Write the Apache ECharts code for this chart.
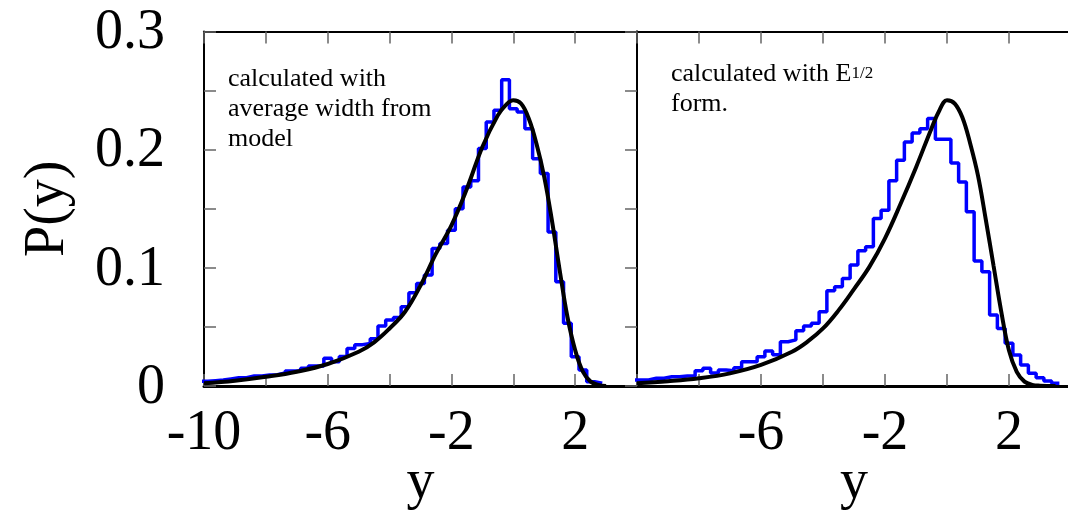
<!DOCTYPE html>
<html>
<head>
<meta charset="utf-8">
<script src="https://cdn.jsdelivr.net/npm/echarts@6/dist/echarts.min.js"></script>
<style>
html, body { margin: 0; padding: 0; background: #fff; }
#main { width: 1068px; height: 510px; }
</style>
</head>
<body>
<div id="main"></div>
<script>
// histogram bins: first bin centred on -10, width 0.25
const binWidth = 0.25
const histStart = -10

// left panel: calculated with average width from model
const leftHist = [
  0.004, 0.0045, 0.005, 0.006, 0.007, 0.007, 0.0085, 0.0085, 0.0093, 0.0095,
  0.011, 0.0127, 0.013, 0.015, 0.0169, 0.017, 0.0234, 0.0206, 0.025, 0.0318,
  0.035, 0.036, 0.040, 0.0507, 0.0558, 0.058, 0.067, 0.079, 0.0868, 0.094,
  0.1164, 0.1206, 0.1318, 0.150, 0.1685, 0.1736, 0.2009, 0.2234, 0.2333, 0.2592,
  0.2347, 0.2319, 0.2178, 0.1924, 0.1798, 0.1304, 0.0882, 0.053, 0.0248, 0.0135,
  0.0037, 0.0023
]
const leftCurveX = [-10, -9, -8, -7, -6, -5, -4.5, -4, -3.5, -3, -2.5, -2, -1.5, -1, -0.5, -0.25, 0, 0.25, 0.5, 0.75, 1, 1.25, 1.5, 1.75, 2, 2.25, 2.5, 2.75, 3]
const leftCurveY = [0.0023, 0.0045, 0.0078, 0.0121, 0.0186, 0.029, 0.037, 0.0487, 0.0628, 0.085, 0.112, 0.136, 0.167, 0.2023, 0.229, 0.2375, 0.2418, 0.239, 0.2263, 0.205, 0.177, 0.140, 0.098, 0.0586, 0.0304, 0.0121, 0.0037, 0.001, 0]

// right panel: calculated with E^1/2 form
const rightHist = [
  0.005, 0.0051, 0.0065, 0.0065, 0.0079, 0.0079, 0.0085, 0.0085, 0.013, 0.015,
  0.011, 0.0135, 0.013, 0.0155, 0.0206, 0.0206, 0.0248, 0.0296, 0.0265, 0.0375,
  0.039, 0.0468, 0.0507, 0.053, 0.0628, 0.0806, 0.0839, 0.091, 0.1023, 0.1144,
  0.1178, 0.1417, 0.1488, 0.1736, 0.191, 0.2065, 0.2142, 0.2178, 0.2263, 0.2088,
  0.2088, 0.1888, 0.1727, 0.1474, 0.1057, 0.0966, 0.060, 0.0487, 0.0361, 0.0262,
  0.0178, 0.0107, 0.007, 0.0042, 0.0023
]
const rightCurveX = [-10, -9, -8, -7, -6, -5, -4.5, -4, -3.5, -3, -2.5, -2, -1.5, -1, -0.5, -0.25, 0, 0.25, 0.5, 0.75, 1, 1.25, 1.5, 1.75, 2, 2.25, 2.5, 2.75, 3, 3.5]
const rightCurveY = [0.0023, 0.004, 0.0065, 0.0107, 0.0178, 0.029, 0.0375, 0.0487, 0.064, 0.082, 0.101, 0.125, 0.154, 0.185, 0.218, 0.233, 0.2418, 0.239, 0.227, 0.205, 0.178, 0.141, 0.102, 0.063, 0.030, 0.012, 0.0037, 0.001, 0.0003, 0]

// tick labels
const xLabelsLeft = [-10, -6, -2, 2]
const xLabelsRight = [-6, -2, 2]
const yLabels = [0, 0.1, 0.2, 0.3]

const FONT = 'Liberation Serif'

// bin edges -> points for a step line
function histPoints(vals) {
  const pts = vals.map((v, i) => [histStart + i * binWidth - binWidth / 2, v])
  const last = vals.length - 1
  pts.push([histStart + last * binWidth + binWidth / 2, vals[last]])
  return pts
}
function zip(xs, ys) {
  return xs.map((x, i) => [x, ys[i]])
}

const tickStyle = { show: true, inside: true, length: 12, lineStyle: { color: '#666', width: 1.5 } }
const bigText = { fontFamily: FONT, fontSize: 56, color: '#000' }
function frame(width) {
  return { show: true, onZero: false, lineStyle: { color: '#000', width } }
}

function xAxes(gridIndex, labels) {
  return [
    {
      type: 'value', gridIndex, position: 'bottom', min: -10, max: 4, interval: 2,
      axisLine: frame(3), axisTick: tickStyle, splitLine: { show: false },
      axisLabel: {
        ...bigText, margin: 20, showMinLabel: true, showMaxLabel: true,
        formatter: (v) => (labels.includes(v) ? String(v) : '')
      },
      name: 'y', nameLocation: 'middle', nameGap: 69, nameMoveOverlap: false, nameTextStyle: bigText
    },
    {
      type: 'value', gridIndex, position: 'top', min: -10, max: 4, interval: 2,
      axisLine: frame(2), axisTick: tickStyle, axisLabel: { show: false }, splitLine: { show: false }
    }
  ]
}

const myChart = echarts.init(document.getElementById('main'))
myChart.setOption({
  animation: false,
  backgroundColor: '#fff',
  grid: [
    { left: 204, top: 31.5, width: 433, height: 354.5, outerBoundsMode: 'none' },
    { left: 637, top: 31.5, width: 434, height: 354.5, outerBoundsMode: 'none' }
  ],
  xAxis: [...xAxes(0, xLabelsLeft), ...xAxes(1, xLabelsRight)],
  yAxis: [
    {
      type: 'value', gridIndex: 0, position: 'left', min: 0, max: 0.3, interval: 0.05,
      axisLine: frame(2), axisTick: tickStyle, splitLine: { show: false },
      axisLabel: {
        ...bigText, margin: 39, verticalAlign: 'top', lineHeight: 4, showMinLabel: true, showMaxLabel: true,
        formatter: (v) => {
          const hit = yLabels.find((t) => Math.abs(t - v) < 1e-6)
          return hit === undefined ? '' : (hit === 0 ? '0' : hit.toFixed(1))
        }
      },
      name: 'P(y)', nameLocation: 'middle', nameGap: 128, nameTextStyle: bigText
    },
    {
      type: 'value', gridIndex: 0, position: 'right', min: 0, max: 0.3, interval: 0.05,
      axisLine: frame(2), axisTick: tickStyle, axisLabel: { show: false }, splitLine: { show: false }
    },
    {
      type: 'value', gridIndex: 1, position: 'left', min: 0, max: 0.3, interval: 0.05,
      axisLine: frame(2), axisTick: { show: false }, axisLabel: { show: false }, splitLine: { show: false }
    }
  ],
  series: [
    {
      type: 'line', xAxisIndex: 0, yAxisIndex: 0, step: 'end', symbol: 'none',
      lineStyle: { color: '#0000ff', width: 3.5 }, data: histPoints(leftHist), z: 2
    },
    {
      type: 'line', xAxisIndex: 0, yAxisIndex: 0, smooth: 0.4, symbol: 'none',
      lineStyle: { color: '#000', width: 4 }, data: zip(leftCurveX, leftCurveY), z: 3
    },
    {
      type: 'line', xAxisIndex: 2, yAxisIndex: 2, step: 'end', symbol: 'none',
      lineStyle: { color: '#0000ff', width: 3.5 }, data: histPoints(rightHist), z: 2
    },
    {
      type: 'line', xAxisIndex: 2, yAxisIndex: 2, smooth: 0.4, symbol: 'none',
      lineStyle: { color: '#000', width: 4 }, data: zip(rightCurveX, rightCurveY), z: 3
    }
  ],
  graphic: [
    {
      type: 'text', left: 228, top: 64,
      style: {
        text: 'calculated with\naverage width from\nmodel',
        font: '26px "Liberation Serif"', lineHeight: 30, fill: '#000'
      }
    },
    {
      type: 'text', left: 671, top: 61,
      style: {
        text: '{m|calculated with E}{s|1/2}\n{m|form.}',
        fill: '#000',
        rich: {
          m: { fontFamily: FONT, fontSize: 26, lineHeight: 30 },
          s: { fontFamily: FONT, fontSize: 17, lineHeight: 30 }
        }
      }
    }
  ]
})
</script>
</body>
</html>
